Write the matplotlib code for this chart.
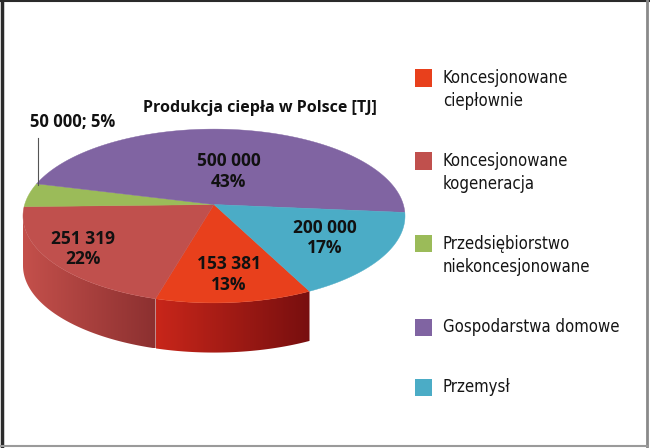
import numpy as np
import matplotlib
matplotlib.use('Agg')
import matplotlib.pyplot as plt
from matplotlib.patches import Polygon, Rectangle
from matplotlib.lines import Line2D
from matplotlib.colors import to_rgb

# data
categories = ['Koncesjonowane\nciepłownie', 'Koncesjonowane\nkogeneracja',
              'Przedsiębiorstwo\nniekoncesjonowane', 'Gospodarstwa domowe', 'Przemysł']
values = [153381, 251319, 50000, 500000, 200000]
value_labels = ['153 381', '251 319', '50 000', '500 000', '200 000']
pct_labels = ['13%', '22%', '5%', '43%', '17%']
title = 'Produkcja ciepła w Polsce [TJ]'

# styles
top_colors = ['#E8401C', '#C0504D', '#9BBB59', '#8064A2', '#4BACC6']
side_light = ['#C8261A', '#C4504B', '#7A963C', '#5F4B7E', '#124E5A']
side_dark = ['#780F0F', '#8C3030', '#5A732D', '#46375F', '#083C48']
label_r = [0.74, 0.82, None, 0.45, 0.66]

plt.rcParams['font.family'] = ['DejaVu Sans']
plt.rcParams['font.stretch'] = 'condensed'
BOLD = dict(family=['Open Sans', 'DejaVu Sans'], fontweight='bold', fontstretch='condensed')

W, H = 650, 448
fig = plt.figure(figsize=(W / 100, H / 100), dpi=100)
ax = fig.add_axes([0, 0, 1, 1])
R = 191.0            # px per unit radius
cx, cy = 214, 216    # pie centre in px (from top-left)
ax.set_xlim(-cx / R, (W - cx) / R)
ax.set_ylim(-(H - cy) / R, cy / R)
ax.axis('off')

b = 0.455      # vertical squash of the ellipse
depth = 0.26
apex = (0.0, 0.06)
start = -60.0

vals = np.array(values, dtype=float)
edges = start - np.concatenate([[0], np.cumsum(vals / vals.sum())]) * 360

# side walls (front half only)
for i in range(len(vals)):
    t0, t1 = edges[i], edges[i + 1]
    hi, lo = min(t0, 0), max(t1, -180)
    if lo >= hi:
        continue
    ts = np.radians(np.linspace(hi, lo, 80))
    xs, ys = np.cos(ts), b * np.sin(ts)
    pts = np.vstack([np.column_stack([xs, ys]),
                     np.column_stack([xs[::-1], ys[::-1] - depth])])
    poly = Polygon(pts, closed=True, facecolor='none', edgecolor='none')
    ax.add_patch(poly)
    c1, c2 = np.array(to_rgb(side_light[i])), np.array(to_rgb(side_dark[i]))
    k = np.linspace(0, 1, 100)[None, :, None]
    grad = c1 * (1 - k) + c2 * k
    im = ax.imshow(grad, extent=(xs.min(), xs.max(), ys.min() - depth, ys.max()),
                   aspect='auto', interpolation='bilinear', zorder=1)
    im.set_clip_path(poly)

# top face
for i in range(len(vals)):
    ts = np.radians(np.linspace(edges[i], edges[i + 1], 120))
    pts = np.vstack([[apex], np.column_stack([np.cos(ts), b * np.sin(ts)])])
    ax.add_patch(Polygon(pts, closed=True, facecolor=top_colors[i],
                         edgecolor=top_colors[i], linewidth=0.3, zorder=2))

# labels
for i in range(len(vals)):
    mid = np.radians((edges[i] + edges[i + 1]) / 2)
    if label_r[i] is None:
        x0, y0 = 0.95 * np.cos(mid), 0.95 * b * np.sin(mid) + 0.06
        ax.plot([x0, x0], [y0, 0.41], color='#555555', lw=0.8, zorder=3)
        ax.text(x0 - 0.04, 0.49, f'{value_labels[i]}; {pct_labels[i]}',
                ha='left', va='center', fontsize=12, color='#111111', zorder=4, **BOLD)
    else:
        r = label_r[i]
        ax.text(r * np.cos(mid), r * b * np.sin(mid) + 0.03,
                f'{value_labels[i]}\n{pct_labels[i]}', ha='center', va='center',
                fontsize=12.5, linespacing=1.2, color='#111111', zorder=4, **BOLD)

fig.text(260 / W, 1 - 108 / H, title, ha='center', va='center',
         fontsize=11.5, color='#111111', **BOLD)

# legend
y = 78
for i, lab in enumerate(categories):
    fig.add_artist(Rectangle((415 / W, 1 - (y + 8.5) / H), 17 / W, 17 / H,
                             transform=fig.transFigure, facecolor=top_colors[i],
                             edgecolor='none'))
    lines = lab.split('\n')
    for j, ln in enumerate(lines):
        fig.text(443 / W, 1 - (y + j * 23) / H, ln, ha='left', va='center',
                 fontsize=12, color='#151515')
    y += len(lines) * 23 + 37

# frame
fig.add_artist(Line2D([1.5 / W, 1.5 / W], [0, 1], transform=fig.transFigure, color='#2a2a2a', lw=2.5))
fig.add_artist(Line2D([0, 1], [1 - 1 / H, 1 - 1 / H], transform=fig.transFigure, color='#2a2a2a', lw=1.5))
fig.add_artist(Line2D([647 / W, 647 / W], [0, 1], transform=fig.transFigure, color='#8a8a8a', lw=2))
fig.add_artist(Line2D([0, 647 / W], [1 - 446 / H, 1 - 446 / H], transform=fig.transFigure, color='#9a9a9a', lw=1.5))

fig.savefig('out.png', dpi=100, facecolor='white')
